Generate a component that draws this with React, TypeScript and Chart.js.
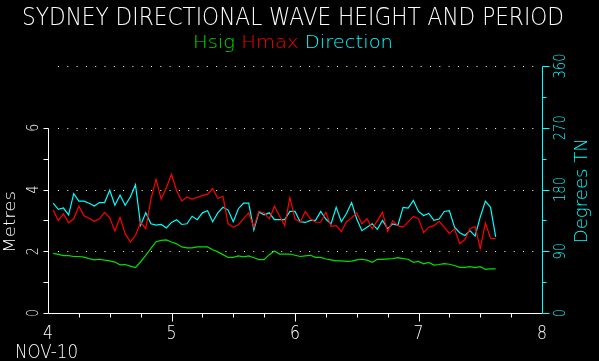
import React, { useEffect, useRef } from "react";
import { Chart, registerables } from "chart.js";

Chart.register(...registerables);

// ---- data (hourly samples starting 1 hour after day 4, NOV-10) ----
const START_DAY = 4;
const FIRST_HOUR = 1;

const hsig = [
  1.93, 1.90, 1.86, 1.86, 1.83, 1.83, 1.81, 1.76, 1.72, 1.74, 1.71, 1.69, 1.65, 1.56, 1.57, 1.52, 1.47,
  1.66, 1.87, 2.09, 2.31, 2.35, 2.37, 2.30, 2.24, 2.14, 2.11, 2.11, 2.14, 2.14, 2.14, 2.05, 1.98, 1.89, 1.80, 1.80,
  1.85, 1.82, 1.85, 1.79, 1.73, 1.73, 1.89, 2.01, 1.91, 1.91, 1.91, 1.87, 1.83, 1.85, 1.87, 1.80, 1.80, 1.75,
  1.72, 1.69, 1.69, 1.67, 1.68, 1.72, 1.74, 1.71, 1.64, 1.74, 1.74, 1.75, 1.76, 1.79, 1.76, 1.74, 1.64, 1.67,
  1.59, 1.64, 1.55, 1.57, 1.60, 1.58, 1.54, 1.48, 1.48, 1.50, 1.47, 1.50, 1.41, 1.43, 1.43,
];

const hmax = [
  3.34, 2.99, 3.21, 2.92, 3.05, 3.46, 3.15, 3.07, 2.97, 3.05, 3.26, 3.08, 2.65, 3.10, 2.57, 2.30, 2.51,
  2.94, 2.73, 3.69, 4.33, 3.69, 4.06, 4.49, 3.96, 3.63, 3.75, 3.69, 3.75, 3.80, 3.85, 4.03, 3.71, 3.78, 2.89, 2.78,
  2.86, 3.05, 3.24, 2.78, 3.29, 3.24, 3.05, 3.46, 3.14, 2.83, 3.74, 3.05, 2.94, 3.29, 3.05, 2.94, 2.94, 3.26,
  2.81, 2.83, 2.64, 2.95, 3.08, 3.24, 2.89, 3.05, 2.73, 2.99, 3.26, 2.64, 2.99, 2.83, 2.78, 2.95, 3.13, 3.05,
  2.60, 2.78, 2.83, 2.97, 2.78, 2.57, 2.73, 2.25, 2.37, 2.73, 2.80, 2.09, 2.91, 2.42, 2.41,
];

const direction = [
  160, 151, 153, 143, 174, 163, 163, 160, 156, 161, 161, 179, 157, 172, 157, 169, 187,
  128, 146, 130, 128, 129, 124, 132, 136, 129, 130, 141, 136, 146, 149, 133, 146, 154,
  150, 133, 152, 160, 160, 121, 147, 143, 146, 136, 136, 136, 148, 148, 133, 132, 135, 135, 148, 137,
  130, 154, 133, 145, 161, 137, 120, 125, 130, 122, 135, 123, 130, 128, 154, 153, 164, 148, 142, 145,
  135, 137, 148, 149, 125, 117, 113, 120, 112, 140, 163, 154, 111,
];

const xTicks = [4, 5, 6, 7, 8];
const metreTicks = [0, 2, 4, 6];
const degreeTicks = [0, 90, 180, 270, 360];

const TITLE = "SYDNEY DIRECTIONAL WAVE HEIGHT AND PERIOD";
const DATE_LABEL = "NOV-10";
const LEFT_TITLE = "Metres";
const RIGHT_TITLE = "Degrees TN";
const SERIES_NAMES = ["Hsig", "Hmax", "Direction"];

const GREEN = "#00e000";
const RED = "#ff0000";
const CYAN = "#00ffff";
const WHITE = "#ffffff";
const FONT = '200 "DejaVu Sans", "DejaVu Sans Mono", sans-serif';
const f = (px: number) => `200 ${px}px "DejaVu Sans", "DejaVu Sans Mono", sans-serif`;

const toPoints = (arr: number[]) =>
  arr.map((v, i) => ({ x: START_DAY + (i + FIRST_HOUR) / 24, y: v }));

function fitText(
  ctx: CanvasRenderingContext2D,
  parts: { text: string; color: string }[],
  font: string,
  cx: number,
  baseline: number,
  width: number
) {
  ctx.save();
  ctx.font = font;
  ctx.textAlign = "left";
  ctx.textBaseline = "alphabetic";
  const full = parts.map((p) => p.text).join("");
  const w = ctx.measureText(full).width;
  const sx = width / w;
  ctx.translate(cx - width / 2, baseline);
  ctx.scale(sx, 1);
  let x = 0;
  for (const p of parts) {
    ctx.fillStyle = p.color;
    ctx.fillText(p.text, x, 0);
    x += ctx.measureText(p.text).width;
  }
  ctx.restore();
}

function rotatedText(
  ctx: CanvasRenderingContext2D,
  text: string,
  font: string,
  color: string,
  baselineX: number,
  centerY: number,
  length?: number
) {
  ctx.save();
  ctx.font = font;
  ctx.fillStyle = color;
  ctx.textAlign = "center";
  ctx.textBaseline = "alphabetic";
  ctx.translate(baselineX, centerY);
  ctx.rotate(-Math.PI / 2);
  if (length) {
    const w = ctx.measureText(text).width;
    ctx.scale(length / w, 1);
  }
  ctx.fillText(text, 0, 0);
  ctx.restore();
}

const wavePlugin = {
  id: "wavePlot",
  beforeDatasetsDraw(chart: any) {
    const { ctx, chartArea } = chart;
    const y2 = chart.scales.y2;
    ctx.save();
    ctx.strokeStyle = WHITE;
    ctx.lineWidth = 1;
    ctx.setLineDash([1, 8.3]);
    for (const v of [90, 180, 270, 360]) {
      const y = Math.round(y2.getPixelForValue(v)) + 0.5;
      ctx.beginPath();
      ctx.moveTo(chartArea.left + 10, y);
      ctx.lineTo(chartArea.right - 2, y);
      ctx.stroke();
    }
    ctx.restore();
  },
  afterDatasetsDraw(chart: any) {
    const { ctx } = chart;
    const xs = chart.scales.x;
    const ys = chart.scales.y;
    const y2 = chart.scales.y2;
    const left = Math.round(xs.getPixelForValue(4)) + 0.5;
    const right = Math.round(xs.getPixelForValue(8)) + 0.5;
    const bottom = Math.round(ys.getPixelForValue(0)) + 0.5;

    ctx.save();
    ctx.lineWidth = 1;
    ctx.setLineDash([]);

    // bottom axis
    ctx.strokeStyle = WHITE;
    ctx.beginPath();
    ctx.moveTo(left, bottom);
    ctx.lineTo(right, bottom);
    ctx.stroke();
    for (let v = 4.25; v < 8; v += 0.25) {
      const x = Math.round(xs.getPixelForValue(v)) + 0.5;
      const major = Math.abs(v - Math.round(v)) < 1e-6;
      ctx.beginPath();
      ctx.moveTo(x, bottom);
      ctx.lineTo(x, bottom + (major ? 8 : 4));
      ctx.stroke();
    }

    // left axis (0..6 m)
    const top6 = Math.round(ys.getPixelForValue(6)) + 0.5;
    ctx.beginPath();
    ctx.moveTo(left, bottom);
    ctx.lineTo(left, top6);
    ctx.stroke();
    for (let v = 0; v <= 6; v += 1) {
      const y = Math.round(ys.getPixelForValue(v)) + 0.5;
      ctx.beginPath();
      ctx.moveTo(left - 5, y);
      ctx.lineTo(left, y);
      ctx.stroke();
    }

    // right axis (0..360 deg)
    ctx.strokeStyle = CYAN;
    const top360 = Math.round(y2.getPixelForValue(360)) + 0.5;
    ctx.beginPath();
    ctx.moveTo(right, Math.round(y2.getPixelForValue(0)) + 0.5);
    ctx.lineTo(right, top360);
    ctx.stroke();
    for (let v = 0; v <= 360; v += 45) {
      const y = Math.round(y2.getPixelForValue(v)) + 0.5;
      ctx.beginPath();
      ctx.moveTo(right, y);
      ctx.lineTo(right + (v % 90 === 0 ? 7 : 4), y);
      ctx.stroke();
    }
    ctx.restore();

    // x tick labels
    ctx.save();
    ctx.fillStyle = WHITE;
    ctx.textBaseline = "alphabetic";
    for (const v of xTicks) {
      fitText(ctx, [{ text: String(v), color: WHITE }], f(19), xs.getPixelForValue(v), 339, 10);
    }
    fitText(ctx, [{ text: DATE_LABEL, color: WHITE }], f(19), 15 + 31.5, 358, 63);
    ctx.restore();

    // left labels
    for (const v of metreTicks) {
      rotatedText(ctx, String(v), f(15), WHITE, 37.5, ys.getPixelForValue(v), 8);
    }
    rotatedText(ctx, LEFT_TITLE, f(16.5), WHITE, 15, 222, 62);

    // right labels
    for (const v of degreeTicks) {
      const s = String(v);
      rotatedText(ctx, s, f(16), CYAN, 565, y2.getPixelForValue(v), 8.3 * s.length);
    }
    rotatedText(ctx, RIGHT_TITLE, f(17), CYAN, 587, 190.7, 105);

    // title and legend
    fitText(ctx, [{ text: TITLE, color: WHITE }], f(24), 293, 24.5, 542);
    fitText(
      ctx,
      [
        { text: SERIES_NAMES[0], color: GREEN },
        { text: " " + SERIES_NAMES[1], color: RED },
        { text: " " + SERIES_NAMES[2], color: CYAN },
      ],
      f(17),
      293,
      47.7,
      200
    );
  },
};

export default function App() {
  const ref = useRef<HTMLCanvasElement | null>(null);

  useEffect(() => {
    document.body.style.margin = "0";
    document.body.style.background = "#000";
    const canvas = ref.current;
    if (!canvas) return;
    const common = { borderWidth: 1.2, pointRadius: 0, tension: 0 };
    const chart = new Chart(canvas, {
      type: "line",
      data: {
        datasets: [
          { label: SERIES_NAMES[0], data: toPoints(hsig), borderColor: GREEN, yAxisID: "y", ...common },
          { label: SERIES_NAMES[1], data: toPoints(hmax), borderColor: RED, yAxisID: "y", ...common },
          { label: SERIES_NAMES[2], data: toPoints(direction), borderColor: CYAN, yAxisID: "y2", ...common },
        ],
      },
      options: {
        responsive: false,
        maintainAspectRatio: false,
        animation: false,
        devicePixelRatio: 1,
        layout: { padding: { left: 48, right: 57, top: 66, bottom: 48 } },
        scales: {
          x: { type: "linear", min: 4, max: 8, display: false },
          y: { type: "linear", min: 0, max: 8, display: false },
          y2: { type: "linear", min: 0, max: 360, display: false },
        },
        plugins: {
          legend: { display: false },
          title: { display: false },
          tooltip: { enabled: false },
        },
      },
      plugins: [wavePlugin],
    } as any);
    return () => chart.destroy();
  }, []);

  return (
    <div style={{ width: 599, height: 361, background: "#000", position: "absolute", left: 0, top: 0 }}>
      <canvas ref={ref} width={599} height={361} style={{ display: "block" }} />
    </div>
  );
}
